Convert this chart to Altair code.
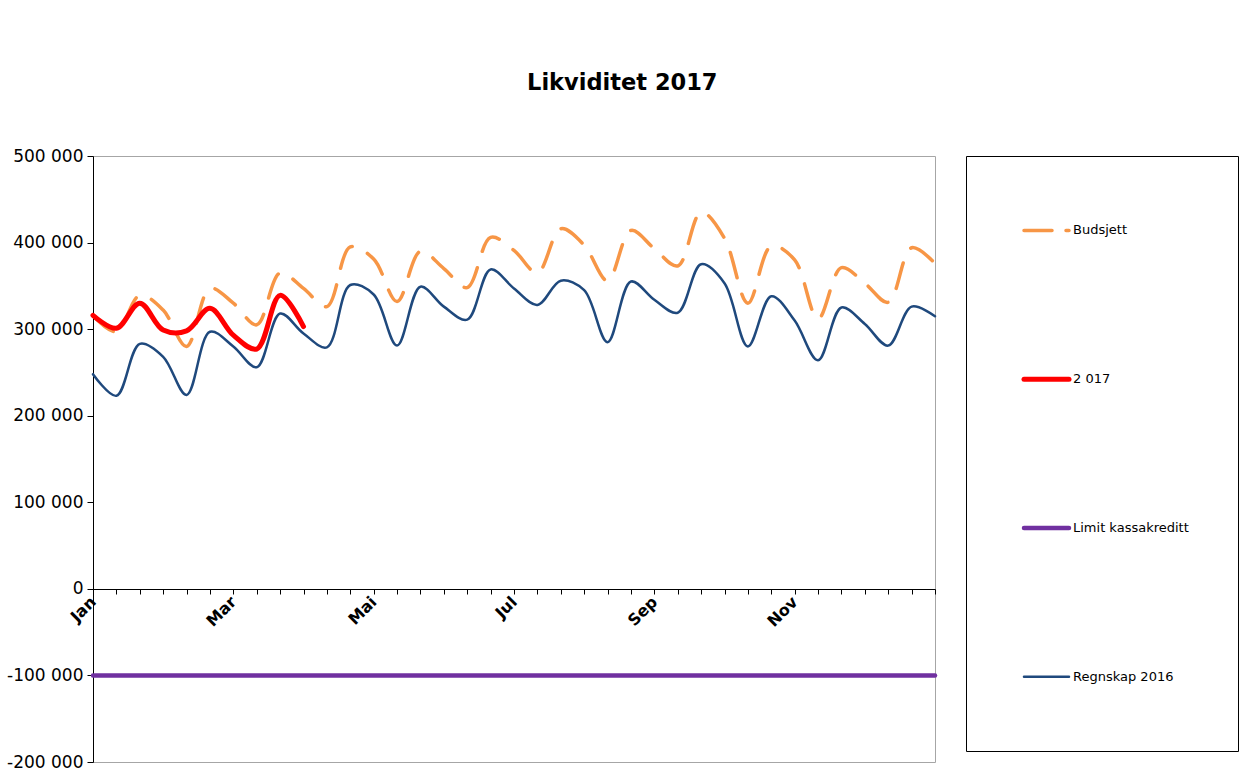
import altair as alt
import pandas as pd

# ---- data ----
month_labels = ["Jan", "Mar", "Mai", "Jul", "Sep", "Nov"]
periods = list(range(37))  # 3 periods per month, Jan .. end of year

budsjett = [316000, 297000, 339000, 322000, 280000, 347000, 330000, 305000, 365000, 347000,
            326000, 395000, 381000, 332000, 390000, 370000, 348000, 406000, 391000, 365000,
            416000, 397000, 356000, 414000, 393000, 373000, 435000, 405000, 330000, 396000,
            380000, 312000, 371000, 353000, 331000, 394000, 376000]
aar_2017 = [316000, 301000, 330000, 299000, 298000, 324000, 293000, 277000, 339000, 303000]
limit = [-100000] * 37
regnskap_2016 = [248000, 223000, 283000, 268000, 224000, 297000, 280000, 256000, 318000, 295000,
                 279000, 351000, 340000, 281000, 349000, 326000, 311000, 369000, 347000, 328000,
                 356000, 345000, 285000, 355000, 334000, 319000, 375000, 353000, 280000, 338000,
                 310000, 264000, 325000, 306000, 281000, 326000, 315000]

series_names = ["Budsjett", "2 017", "Limit kassakreditt", "Regnskap 2016"]
y_ticks = [-200000, -100000, 0, 100000, 200000, 300000, 400000, 500000]

# styles (kept apart from the data)
styles = {
    "Budsjett": dict(color="#F79646", strokeWidth=3.5, strokeDash=[26, 17]),
    "2 017": dict(color="#FF0000", strokeWidth=5),
    "Limit kassakreditt": dict(color="#7030A0", strokeWidth=4.5),
    "Regnskap 2016": dict(color="#1F497D", strokeWidth=2.5),
}
legend_dash = {"Budsjett": [28, 14]}

values_by_series = [budsjett, aar_2017, limit, regnskap_2016]
rows = []
for name, vals in zip(series_names, values_by_series):
    for p, v in zip(periods, vals):
        rows.append({"series": name, "period": p, "value": v})
df = pd.DataFrame(rows)

FONT = "DejaVu Sans"

x_label_expr = "datum.value % 6 == 0 && datum.value < 36 ? [" + ",".join(
    "'" + m + "'" for m in month_labels) + "][datum.value / 6] : ''"
y_label_expr = ("datum.value < 0 ? '-' + replace(format(-datum.value, ','), ',', ' ') : "
                "replace(format(datum.value, ','), ',', ' ')")

x_enc = alt.X("period:Q", scale=alt.Scale(domain=[0, 36], nice=False, zero=False),
              axis=alt.Axis(values=periods, labelExpr=x_label_expr, title=None, grid=False,
                            offset=-173, labelAngle=315, labelAlign="right", labelBaseline="middle",
                            labelFont=FONT, labelFontSize=16, labelFontWeight="bold",
                            labelColor="black", labelOverlap=False, labelFlush=False,
                            labelPadding=5, tickSize=5, tickColor="black", domainColor="black"))
y_enc = alt.Y("value:Q", scale=alt.Scale(domain=[-200000, 500000], nice=False),
              axis=alt.Axis(values=y_ticks, labelExpr=y_label_expr, title=None, grid=False,
                            labelFont=FONT, labelFontSize=17, labelColor="black",
                            tickSize=6, tickColor="black", domainColor="black", labelPadding=4))

order = ["Limit kassakreditt", "Regnskap 2016", "Budsjett", "2 017"]
layers = []
for s in order:
    layers.append(
        alt.Chart(df).transform_filter(alt.datum.series == s)
        .mark_line(interpolate="catmull-rom", strokeCap="round", strokeJoin="round", **styles[s])
        .encode(x=x_enc, y=y_enc)
    )
main = alt.layer(*layers).properties(
    width=842, height=606,
    view=alt.ViewBackground(stroke="#A6A6A6", strokeWidth=1),
)

legend_df = pd.DataFrame({"series": series_names})
leg_y = alt.Y("series:N", scale=alt.Scale(domain=series_names, type="point", padding=0.5), axis=None)
leg_layers = []
for s in series_names:
    st = dict(styles[s])
    if s in legend_dash:
        st["strokeDash"] = legend_dash[s]
    leg_layers.append(
        alt.Chart(legend_df).transform_filter(alt.datum.series == s)
        .mark_rule(strokeCap="round", **st)
        .encode(x=alt.value(58), x2=alt.value(103), y=leg_y)
    )
leg_text = alt.Chart(legend_df).mark_text(align="left", baseline="middle", font=FONT,
                                          fontSize=13, color="black").encode(
    x=alt.value(107), y=leg_y, text="series:N")
legend = alt.layer(*leg_layers, leg_text).properties(
    width=272, height=595,
    view=alt.ViewBackground(stroke="black", strokeWidth=1),
)

chart = alt.hconcat(main, legend, spacing=23).properties(
    title=alt.TitleParams("Likviditet 2017", font=FONT, fontSize=22.5, fontWeight="bold",
                          anchor="middle", offset=52, color="black"),
    padding={"left": 6, "top": 72, "right": 5, "bottom": 5},
).configure(background="white")

chart.save("out.html", embed_options={"renderer": "svg", "actions": False})
